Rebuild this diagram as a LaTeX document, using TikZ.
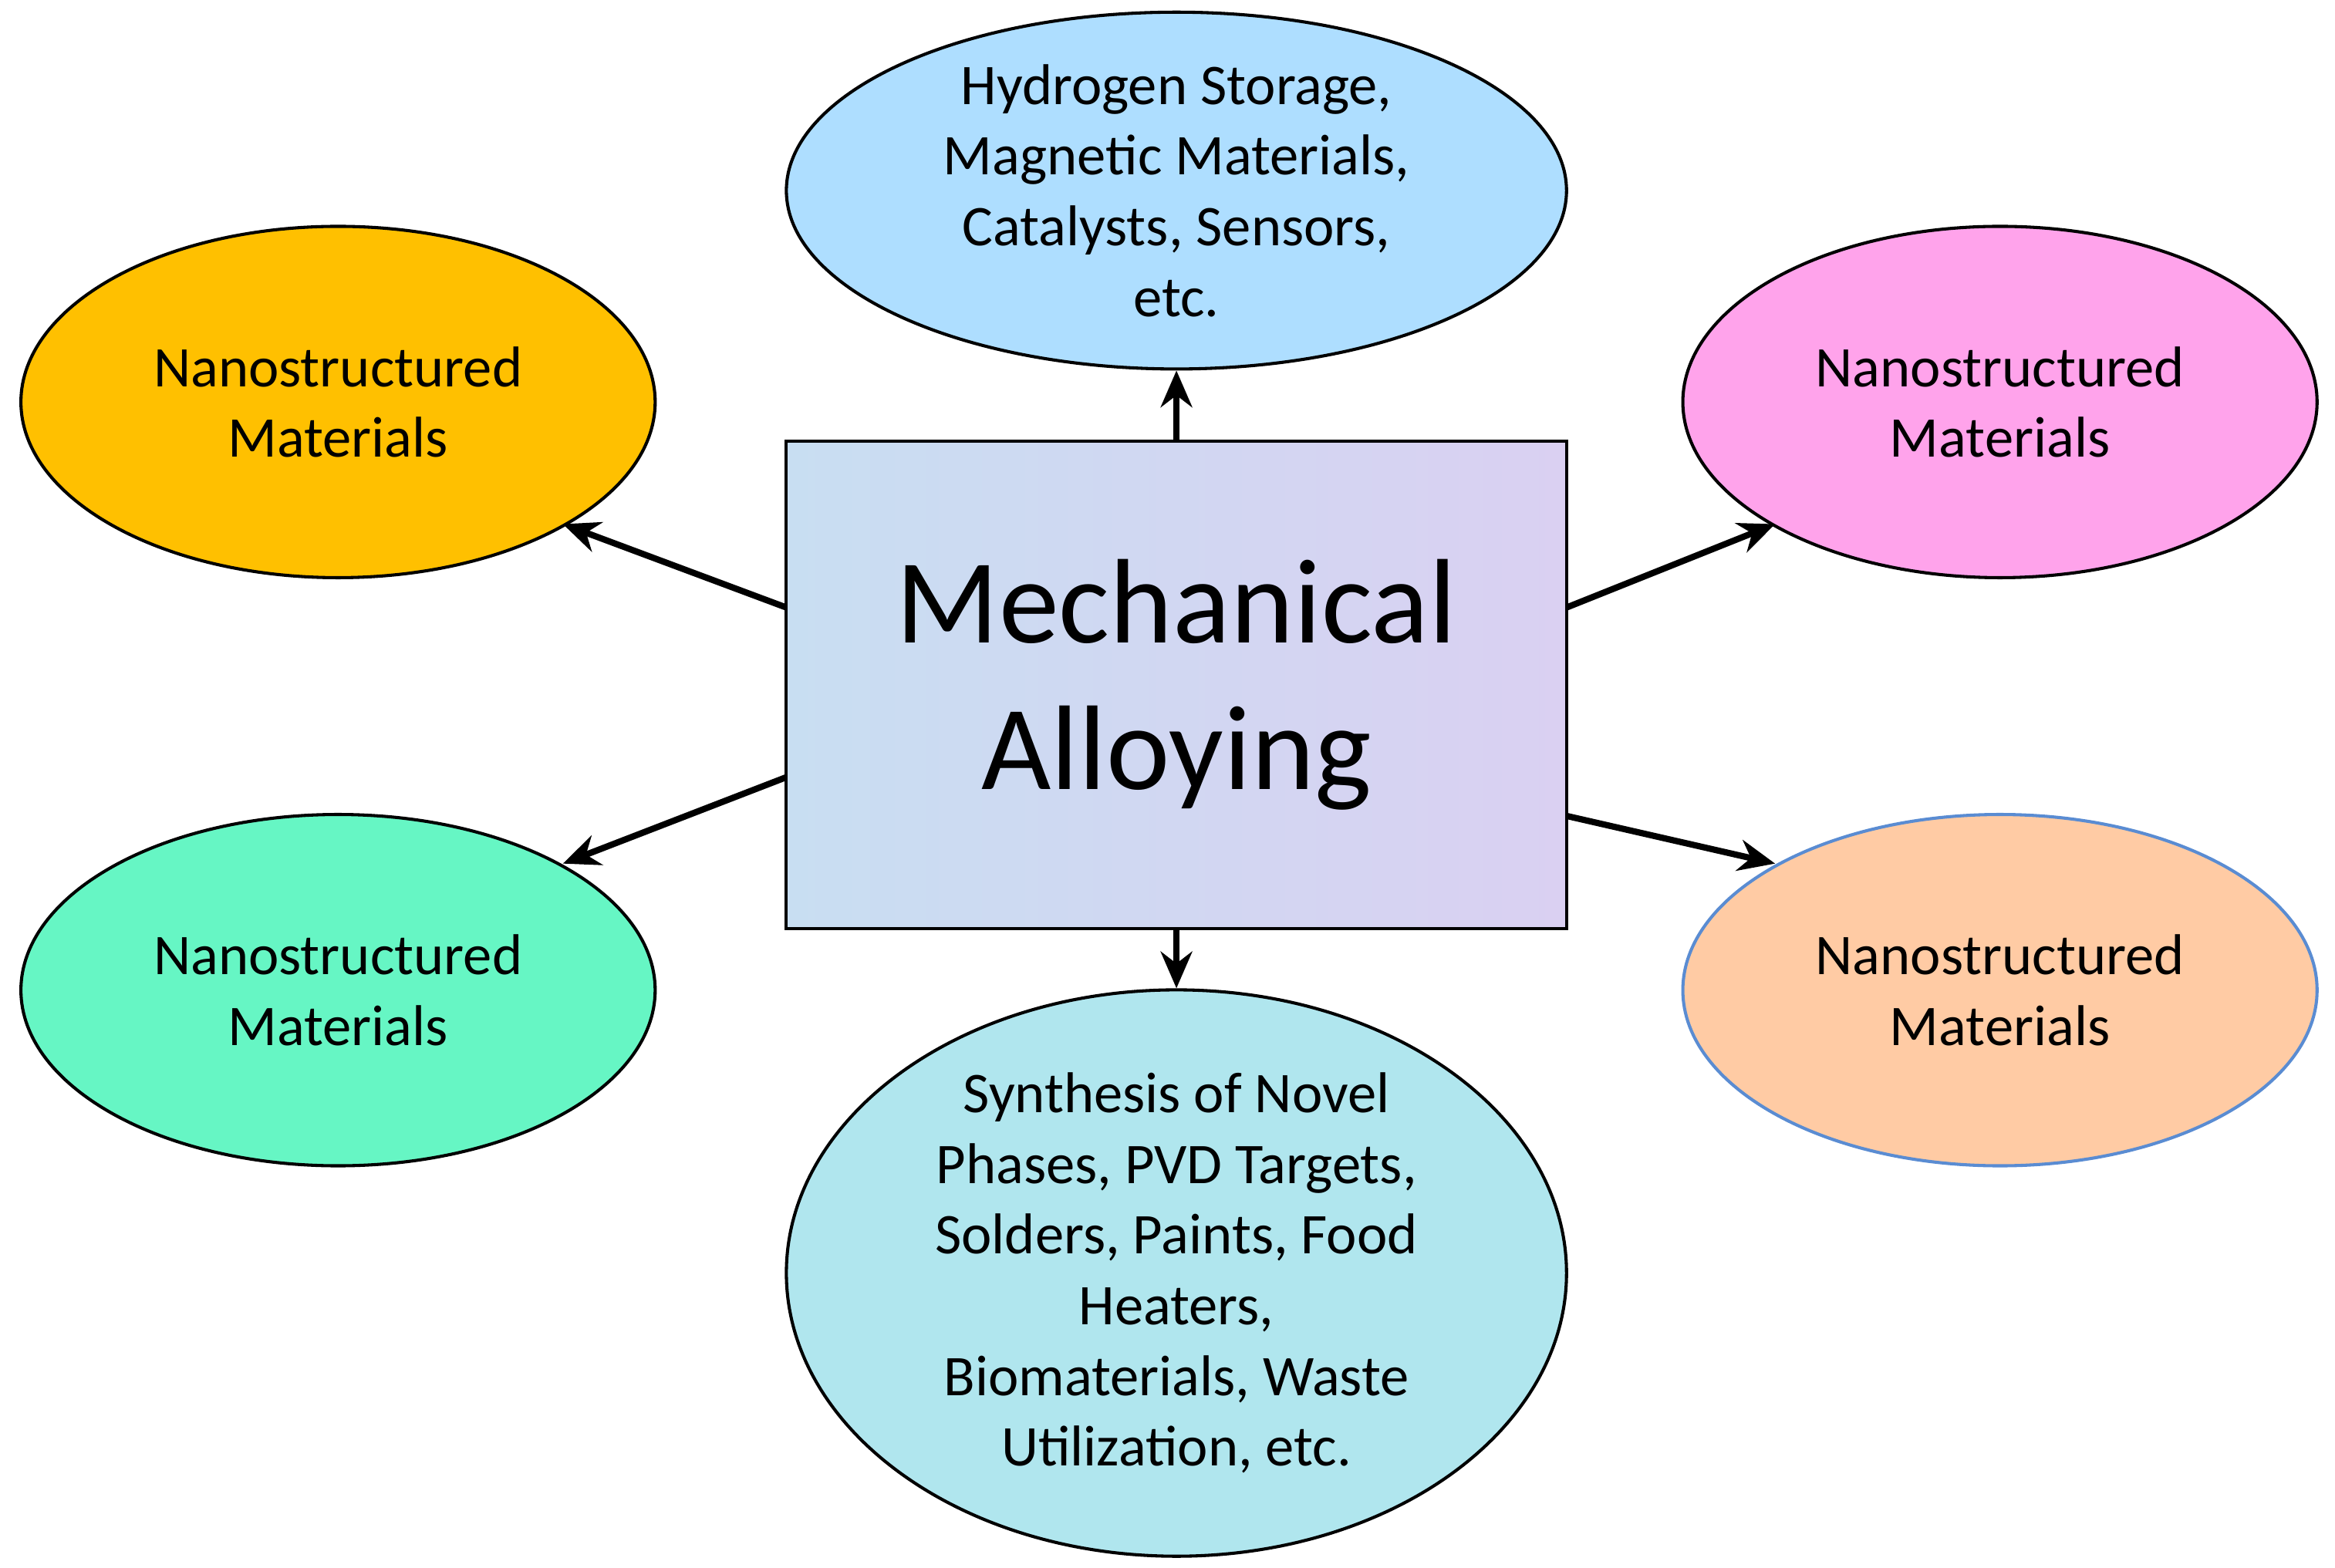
\documentclass[tikz,border=0pt]{standalone}
\usepackage{fontspec}
\setmainfont{Carlito}
\usetikzlibrary{shapes.geometric,arrows.meta}
\begin{document}
\begin{tikzpicture}[x=0.02cm,y=-0.02cm,
 ell/.style={ellipse,draw=black,line width=1.2pt,align=center,font=\fontsize{22}{27}\selectfont,inner sep=0pt},
 arr/.style={line width=2.4pt,-{Stealth[length=14pt,width=12pt]}}]
\useasboundingbox (0,0) rectangle (1568,1053);
\node[ell,fill={rgb,255:red,255;green,192;blue,0},minimum width=8.52cm,minimum height=4.72cm] (lt) at (227,270) {Nanostructured\\Materials};
\node[ell,fill={rgb,255:red,102;green,246;blue,196},minimum width=8.52cm,minimum height=4.72cm] (lb) at (227,665) {Nanostructured\\Materials};
\node[ell,fill={rgb,255:red,255;green,163;blue,235},minimum width=8.52cm,minimum height=4.72cm] (rt) at (1343,270) {Nanostructured\\Materials};
\node[ell,draw={rgb,255:red,90;green,140;blue,210},fill={rgb,255:red,255;green,203;blue,164},minimum width=8.52cm,minimum height=4.72cm] (rb) at (1343,665) {Nanostructured\\Materials};
\node[ell,fill={rgb,255:red,174;green,222;blue,255},minimum width=10.48cm,minimum height=4.72cm] (top) at (790,128) {Hydrogen Storage,\\Magnetic Materials,\\Catalysts, Sensors,\\etc.};
\node[ell,fill={rgb,255:red,176;green,230;blue,238},minimum width=10.48cm,minimum height=7.4cm] (bot) at (790,855) {Synthesis of Novel\\Phases, PVD Targets,\\Solders, Paints, Food\\Heaters,\\Biomaterials, Waste\\Utilization, etc.};
\node[draw=black,line width=1.2pt,minimum width=10.48cm,minimum height=6.54cm,align=center,
 left color={rgb,255:red,200;green,222;blue,242},right color={rgb,255:red,218;green,208;blue,242},
 font=\fontsize{46}{56}\selectfont] (m) at (790,460) {Mechanical\\Alloying};
\coordinate (s1) at (528,408); \coordinate (s2) at (528,522);
\coordinate (s3) at (1052,408); \coordinate (s4) at (1052,548);
\coordinate (e1) at (378,352); \coordinate (e2) at (378,580);
\coordinate (e3) at (1192,352); \coordinate (e4) at (1192,580);
\draw[arr] (s1) -- (e1);
\draw[arr] (s2) -- (e2);
\draw[arr] (s3) -- (e3);
\draw[arr] (s4) -- (e4);
\draw[arr] (m.north) -- (top.south);
\draw[arr] (m.south) -- (bot.north);
\end{tikzpicture}
\end{document}
